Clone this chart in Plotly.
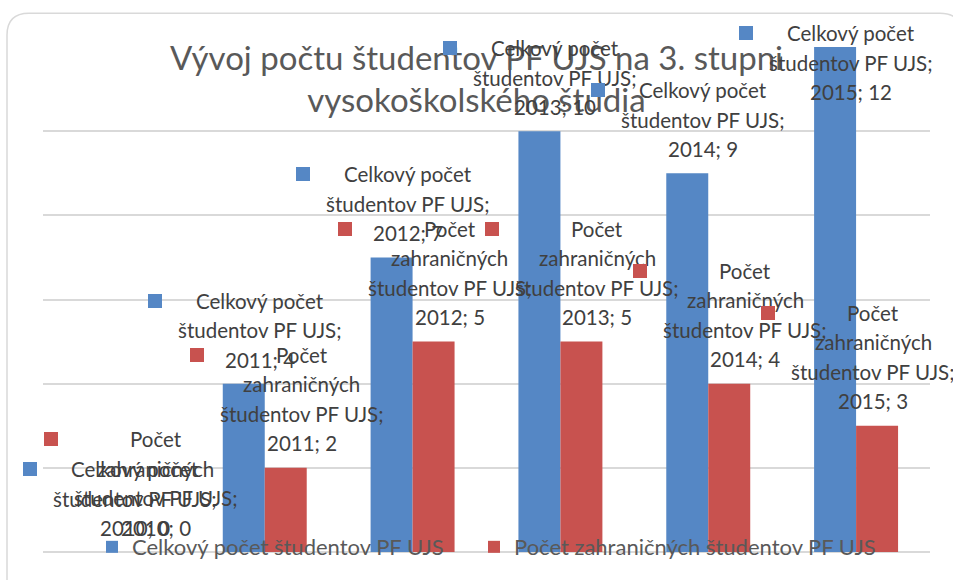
import plotly.graph_objects as go

# ---------------- data ----------------
years = ["2010", "2011", "2012", "2013", "2014", "2015"]
total_students = [0, 4, 7, 10, 9, 12]
foreign_students = [0, 2, 5, 5, 4, 3]
name_total = "Celkový počet študentov PF UJS"
name_foreign = "Počet zahraničných študentov PF UJS"
title_text = "Vývoj počtu študentov PF UJS na 3. stupni<br>vysokoškolského štúdia"
total_label_lines = ["Celkový počet", "študentov PF UJS;"]
foreign_label_lines = ["Počet", "zahraničných", "študentov PF UJS;"]

# ---------------- style ----------------
BLUE = "#5587C5"
RED = "#C8524F"
FONT = "Lato, Carlito, Calibri, sans-serif"
TXT = "#404040"
W, H = 953, 580
ML, MR, MT, MB = 43, 23, 47, 25
BARGAP = 0.432
BAR_OFF = (1 - BARGAP) / 4          # bar centre offset from category centre
LABEL_SIZE = 20.5
LINE_SP = 29.5
KEY_DX = -105                        # key square centre relative to text centre
KEY = 14
total_dx = [39, 16, 16, 16, 16, 16]  # text centre vs bar centre (px)
total_dy = [83, 83, 83, 83, 83, 14]  # first line above bar top (px)
foreign_dx = [18, 16, 16, 16, 16, -4]
foreign_dy = [113, 113, 113, 113, 113, 113]

fig = go.Figure()
fig.add_trace(go.Bar(x=years, y=total_students, name=name_total, legendwidth=337,
                     marker=dict(color=BLUE, line=dict(width=0))))
fig.add_trace(go.Bar(x=years, y=foreign_students, name=name_foreign, legendwidth=400,
                     marker=dict(color=RED, line=dict(width=0))))

annotations = []


def add_label(i, value, lines, color, xoff, dx, dy):
    xpos = i + xoff
    for k, line in enumerate(lines):
        annotations.append(dict(
            x=xpos, y=value, xref="x", yref="y", text=line, showarrow=False,
            xanchor="center", yanchor="middle", xshift=dx, yshift=dy - k * LINE_SP,
            font=dict(family=FONT, size=LABEL_SIZE, color=TXT)))
    annotations.append(dict(
        x=xpos, y=value, xref="x", yref="y", text=" ", showarrow=False,
        xanchor="center", yanchor="middle", xshift=dx + KEY_DX, yshift=dy,
        width=KEY, height=KEY, bgcolor=color, borderpad=0, borderwidth=0,
        font=dict(size=6)))


for i, (yr, v) in enumerate(zip(years, total_students)):
    add_label(i, v, total_label_lines + [f"{yr}; {v}"], BLUE, -BAR_OFF,
              total_dx[i], total_dy[i])
for i, (yr, v) in enumerate(zip(years, foreign_students)):
    add_label(i, v, foreign_label_lines + [f"{yr}; {v}"], RED, BAR_OFF,
              foreign_dx[i], foreign_dy[i])


def px(xp):
    return (xp - ML) / (W - ML - MR)


def py(yp):
    return (H - MB - yp) / (H - MT - MB)


L, T, R, B, r = 7, 13, 962, 592, 22
border = (f"M{px(L)},{py(B)} L{px(L)},{py(T + r)} Q{px(L)},{py(T)} {px(L + r)},{py(T)} "
          f"L{px(R - r)},{py(T)} Q{px(R)},{py(T)} {px(R)},{py(T + r)} L{px(R)},{py(B)}")

fig.update_layout(
    width=W, height=H,
    margin=dict(l=ML, r=MR, t=MT, b=MB),
    paper_bgcolor="white", plot_bgcolor="white",
    barmode="group", bargap=BARGAP, bargroupgap=0,
    title=dict(text=title_text, x=0.5, xanchor="center", xref="container",
               y=1 - 69.5 / H, yanchor="middle", yref="container",
               font=dict(family=FONT, size=33, color="#595959")),
    xaxis=dict(range=[-0.5, len(years) - 0.5], autorange=False,
               showticklabels=False, showgrid=False, zeroline=False,
               showline=False, ticks=""),
    yaxis=dict(range=[0, 12], autorange=False, dtick=2, showticklabels=False, showgrid=True,
               gridcolor="#D9D9D9", gridwidth=1.5, zeroline=True,
               zerolinecolor="#D9D9D9", zerolinewidth=1.5, showline=False, ticks=""),
    showlegend=True,
    legend=dict(orientation="h", x=px(92), xanchor="left", y=py(550), yanchor="middle",
                bgcolor="rgba(0,0,0,0)",
                font=dict(family=FONT, size=22, color="#595959")),
    annotations=annotations,
    shapes=[dict(type="path", path=border, xref="paper", yref="paper",
                 line=dict(color="#D9D9D9", width=1.5), layer="below")],
)

fig.write_html("out.html", config={"displayModeBar": False},
               post_script="document.body.style.margin='0';document.body.style.overflow='hidden';")
